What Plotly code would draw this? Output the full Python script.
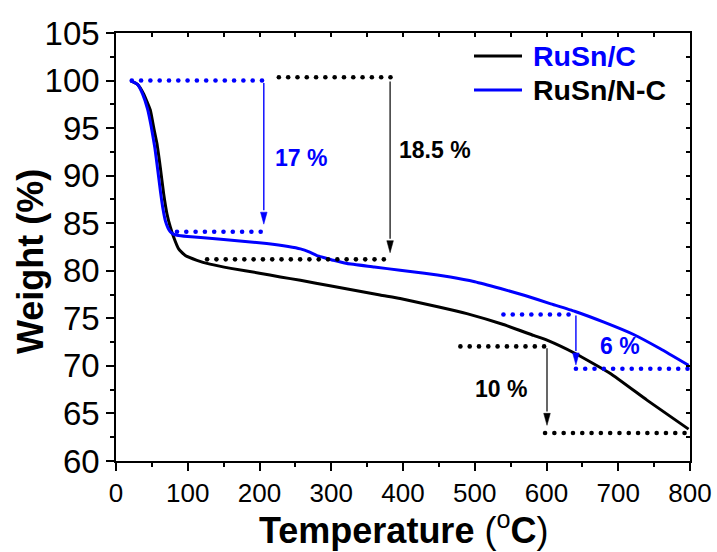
import numpy as np
import plotly.graph_objects as go

# ---- TGA curves (temperature in degC, weight in %) ----
temp_c = [20, 30, 38.5, 47.8, 52.4, 57, 61.7, 66.4, 71, 75.7, 80.3, 87.3, 96.6,
          112.8, 131, 160, 200, 229, 257, 300, 368, 396, 450, 489, 540,
          582, 600.7, 640, 689, 740, 798]
weight_c = [100, 99.6, 98.6, 96.9, 95.1, 93.4, 90.9, 88.1, 86.0, 84.6, 83.55, 82.3,
            81.6, 81.1, 80.7, 80.25, 79.75, 79.35, 79.0, 78.4, 77.45, 77.08, 76.2,
            75.5, 74.35, 73.2, 72.7, 71.3, 69.2, 66.4, 63.35]

temp_nc = [20, 30, 37, 44, 49, 54, 58, 62, 65.5, 69, 72.5, 75.7, 80, 85, 100, 118,
           150, 210, 240, 257, 270, 280, 294, 303, 322, 360, 396, 430, 466, 500,
           536, 570, 605, 640, 680, 721.4, 758.6, 798]
weight_nc = [100, 99.6, 98.6, 97.0, 95.2, 93.0, 90.7, 88.3, 86.5, 85.2, 84.5, 84.1,
             83.85, 83.73, 83.6, 83.5, 83.3, 82.86, 82.55, 82.3, 81.95, 81.6, 81.3,
             81.1, 80.76, 80.4, 80.05, 79.75, 79.35, 78.85, 78.13, 77.4, 76.55,
             75.72, 74.6, 73.3, 71.8, 70.06]

# ---- dotted reference levels for the mass-loss steps ----
level_weight = [100.0, 100.35, 84.1, 81.2, 75.4, 69.7, 72.05, 62.95]
level_start = [22, 227, 85, 127, 540, 641, 480, 598]
level_end = [207, 385, 203, 375, 633, 797, 600, 796]
level_color = ["blue", "black", "blue", "black", "blue", "blue", "black", "black"]

# ---- arrows marking each step (x, from weight, to weight) ----
arrow_temp = [206, 382, 641, 600.7]
arrow_from = [99.75, 99.9, 75.3, 71.85]
arrow_to = [84.9, 81.9, 70.1, 63.75]
arrow_color = ["blue", "black", "blue", "black"]

# ---- step labels ----
loss_text = ["17 %", "18.5 %", "6 %", "10 %"]
loss_temp = [258, 444, 702, 536]
loss_weight = [91.9, 92.7, 72.1, 67.6]
loss_color = ["blue", "black", "blue", "black"]

FONT = "Liberation Sans, Arial, sans-serif"
W, H = 717, 552
ML, MR, MT, MB = 116, 27, 33, 91
XR = [0, 800]
YR = [60, 105]
sx = (W - ML - MR) / (XR[1] - XR[0])   # px per degC
sy = (H - MT - MB) / (YR[1] - YR[0])   # px per %

fig = go.Figure()

fig.add_trace(go.Scatter(x=temp_c, y=weight_c, mode="lines", name="RuSn/C",
                         line=dict(color="black", width=3, shape="spline", smoothing=0.4),
                         showlegend=False))
fig.add_trace(go.Scatter(x=temp_nc, y=weight_nc, mode="lines", name="RuSn/N-C",
                         line=dict(color="blue", width=3, shape="spline", smoothing=0.4),
                         showlegend=False))

# dotted levels as rows of round dots
DOT_STEP_PX = 9.3
for w, a, b, c in zip(level_weight, level_start, level_end, level_color):
    xs = np.arange(a, b + 0.01, DOT_STEP_PX / sx)
    fig.add_trace(go.Scatter(x=xs, y=np.full_like(xs, w, dtype=float), mode="markers",
                             marker=dict(color=c, size=4.6, line=dict(width=0)),
                             showlegend=False, hoverinfo="skip"))

# arrows: thin shaft plus a narrow filled head
HEAD_LEN, HEAD_HALF = 12.0, 3.3
for x0, y0, y1, c in zip(arrow_temp, arrow_from, arrow_to, arrow_color):
    base = y1 + HEAD_LEN / sy
    fig.add_trace(go.Scatter(x=[x0, x0], y=[y0, base + 0.2], mode="lines",
                             line=dict(color=c, width=1.4 if c == "blue" else 1.2),
                             showlegend=False, hoverinfo="skip"))
    fig.add_trace(go.Scatter(x=[x0 - HEAD_HALF / sx, x0 + HEAD_HALF / sx, x0, x0 - HEAD_HALF / sx],
                             y=[base, base, y1, base], mode="lines", fill="toself",
                             fillcolor=c, line=dict(color=c, width=0.5),
                             showlegend=False, hoverinfo="skip"))

# empty traces so the top/right mirror axes are drawn
fig.add_trace(go.Scatter(x=[None], y=[None], xaxis="x2", yaxis="y", showlegend=False,
                         hoverinfo="skip"))
fig.add_trace(go.Scatter(x=[None], y=[None], xaxis="x", yaxis="y2", showlegend=False,
                         hoverinfo="skip"))

annotations = []
for t, x, y, c in zip(loss_text, loss_temp, loss_weight, loss_color):
    annotations.append(dict(x=x, y=y, xref="x", yref="y", text=f"<b>{t}</b>",
                            showarrow=False, font=dict(family=FONT, size=23, color=c),
                            xanchor="center", yanchor="middle"))


def px_x(p):
    return (p - ML) / (W - ML - MR)


def px_y(p):
    return (H - MB - p) / (H - MT - MB)


# legend drawn by hand: sample line + label (label colours as in the figure)
legend_rows = [("RuSn/C", "black", "blue", 56), ("RuSn/N-C", "blue", "black", 90)]
shapes = []
for name, line_c, text_c, yp in legend_rows:
    shapes.append(dict(type="line", xref="paper", yref="paper",
                       x0=px_x(474), x1=px_x(522), y0=px_y(yp), y1=px_y(yp),
                       line=dict(color=line_c, width=3)))
    annotations.append(dict(x=px_x(531), y=px_y(yp), xref="paper", yref="paper",
                            text=f"<b>{name}</b>", showarrow=False,
                            font=dict(family=FONT, size=28.5, color=text_c),
                            xanchor="left", yanchor="middle"))

# axis titles
annotations.append(dict(x=px_x(30), y=px_y(262), xref="paper", yref="paper",
                        text="<b>Weight (%)</b>", textangle=-90, showarrow=False,
                        font=dict(family=FONT, size=36, color="black"),
                        xanchor="center", yanchor="middle"))
annotations.append(dict(x=px_x(403), y=px_y(528), xref="paper", yref="paper",
                        text="<b>Temperature </b>(<sup>o</sup><b>C</b>)", showarrow=False,
                        font=dict(family=FONT, size=36, color="black"),
                        xanchor="center", yanchor="middle"))

axis_common = dict(showgrid=False, zeroline=False, showline=True, linecolor="black",
                   linewidth=1.6, tickcolor="black", tickwidth=1.5, automargin=False)

fig.update_layout(
    width=W, height=H, autosize=False,
    margin=dict(l=ML, r=MR, t=MT, b=MB, pad=0, autoexpand=False),
    plot_bgcolor="white", paper_bgcolor="white",
    font=dict(family=FONT, color="black"),
    showlegend=False,
    xaxis=dict(range=XR, domain=[0, 1], tickmode="linear", tick0=0, dtick=100,
               ticks="outside", ticklen=8, tickfont=dict(size=26, family=FONT),
               minor=dict(dtick=50, ticks="outside", ticklen=4, tickcolor="black", tickwidth=1.5),
               **axis_common),
    yaxis=dict(range=YR, domain=[0, 1], tickmode="linear", tick0=60, dtick=5,
               ticks="outside", ticklen=8, tickfont=dict(size=33, family=FONT),
               minor=dict(dtick=2.5, ticks="outside", ticklen=4, tickcolor="black", tickwidth=1.5),
               **axis_common),
    xaxis2=dict(range=XR, overlaying="x", side="top", anchor="y", tickmode="linear",
                tick0=0, dtick=50, ticks="inside", ticklen=4, showticklabels=False,
                **axis_common),
    yaxis2=dict(range=YR, overlaying="y", side="right", anchor="x", tickmode="linear",
                tick0=60, dtick=2.5, ticks="inside", ticklen=4, showticklabels=False,
                **axis_common),
    annotations=annotations,
    shapes=shapes,
)

fig.write_html("out.html", config={"responsive": False})
